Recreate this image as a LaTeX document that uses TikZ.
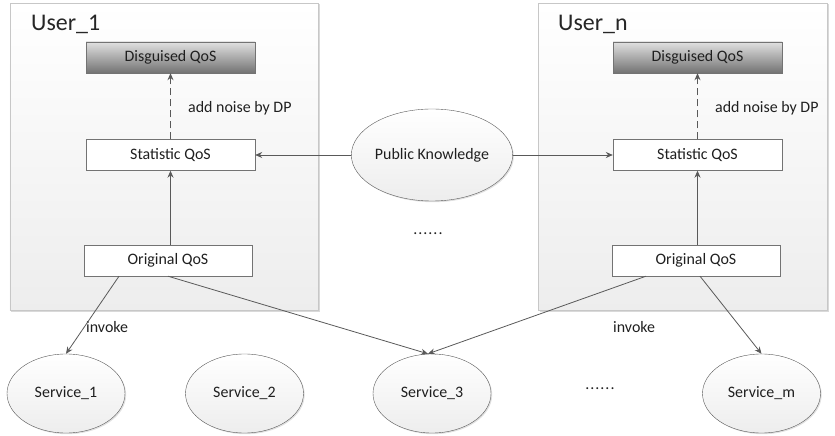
\documentclass[tikz,border=0pt]{standalone}
\usepackage{fontspec}
\setmainfont{Carlito}
\usetikzlibrary{shapes.geometric,arrows.meta,shadows}
\newcommand{\sixdots}{.\kern1bp.\kern1bp.\kern1bp.\kern1bp.\kern1bp.}
\begin{document}
\begin{tikzpicture}[x=1bp,y=-1bp,
  userbox/.style={draw=black!22, top color=white, bottom color=black!7, minimum height=307bp, inner sep=0pt,
    drop shadow={shadow xshift=1.5bp,shadow yshift=-1.5bp,opacity=0.25,fill=black!60}},
  qos/.style={draw=black!55, fill=white, minimum width=169bp, minimum height=31bp, inner sep=0pt,
    font=\fontsize{16}{18}\selectfont, text=black!88},
  dqos/.style={qos, top color=black!12, bottom color=black!55},
  oval/.style={ellipse, draw=black!65, top color=white, bottom color=black!7, minimum width=118bp,
    minimum height=79bp, inner sep=0pt, font=\fontsize{16}{18}\selectfont, text=black!88,
    drop shadow={shadow xshift=1.2bp,shadow yshift=-1.2bp,opacity=0.2,fill=black!60}},
  conn/.style={draw=black!65, line width=0.8bp, -{Stealth[length=7bp,width=6bp]}},
  lbl/.style={font=\fontsize{16}{18}\selectfont, text=black!88, inner sep=0pt},
  title/.style={font=\fontsize{24}{28}\selectfont, text=black!85, inner sep=0pt, anchor=west}
]
\useasboundingbox (0,0) rectangle (835,436);
% user boxes
\node[userbox, minimum width=308bp] (u1) at (164,156.5) {};
\node[userbox, minimum width=289bp] (un) at (682.5,156.5) {};
\node[title] (t1) at (31,24) {User\_1};
\node[title] (tn) at (558,24) {User\_n};
% left user
\node[dqos] (d1) at (170.5,57.5) {Disguised QoS};
\node[qos] (s1) at (170.5,155) {Statistic QoS};
\node[qos, minimum width=168bp] (o1) at (168,260.5) {Original QoS};
% right user
\node[dqos] (dn) at (697.5,57.5) {Disguised QoS};
\node[qos] (sn) at (697.5,155) {Statistic QoS};
\node[qos, minimum width=168bp] (on) at (696,260.5) {Original QoS};
% public knowledge
\node[oval, minimum width=140bp, minimum height=92bp] (pk) at (432,155) {Public Knowledge};
\node[lbl] (dots1) at (428,234) {\sixdots};
% services
\node[oval] (sv1) at (66,393.5) {Service\_1};
\node[oval] (sv2) at (244.5,393.5) {Service\_2};
\node[oval] (sv3) at (432,393.5) {Service\_3};
\node[oval] (svm) at (761.5,393.5) {Service\_m};
\node[lbl] (dots2) at (600,389) {\sixdots};
% labels
\node[lbl, anchor=west] (n1) at (188,108) {add noise by DP};
\node[lbl, anchor=west] (nn) at (715,108) {add noise by DP};
\node[lbl, anchor=west] (i1) at (86,327) {invoke};
\node[lbl, anchor=west] (in) at (613,327) {invoke};
% connectors
\draw[conn, dashed, dash pattern=on 7bp off 4bp] (s1) -- (d1);
\draw[conn, dashed, dash pattern=on 7bp off 4bp] (sn) -- (dn);
\draw[conn] (o1.north -| s1.south) -- (s1.south);
\draw[conn] (on.north -| sn.south) -- (sn.south);
\draw[conn] (pk) -- (s1);
\draw[conn] (pk) -- (sn);
\draw[conn] ([xshift=-49bp]o1.south) -- (sv1.north);
\draw[conn] (o1.south) -- ([xshift=-4bp]sv3.north);
\draw[conn] ([xshift=-50bp]on.south) -- ([xshift=-4bp]sv3.north);
\draw[conn] ([xshift=4bp]on.south) -- (svm.north);
\end{tikzpicture}
\end{document}
